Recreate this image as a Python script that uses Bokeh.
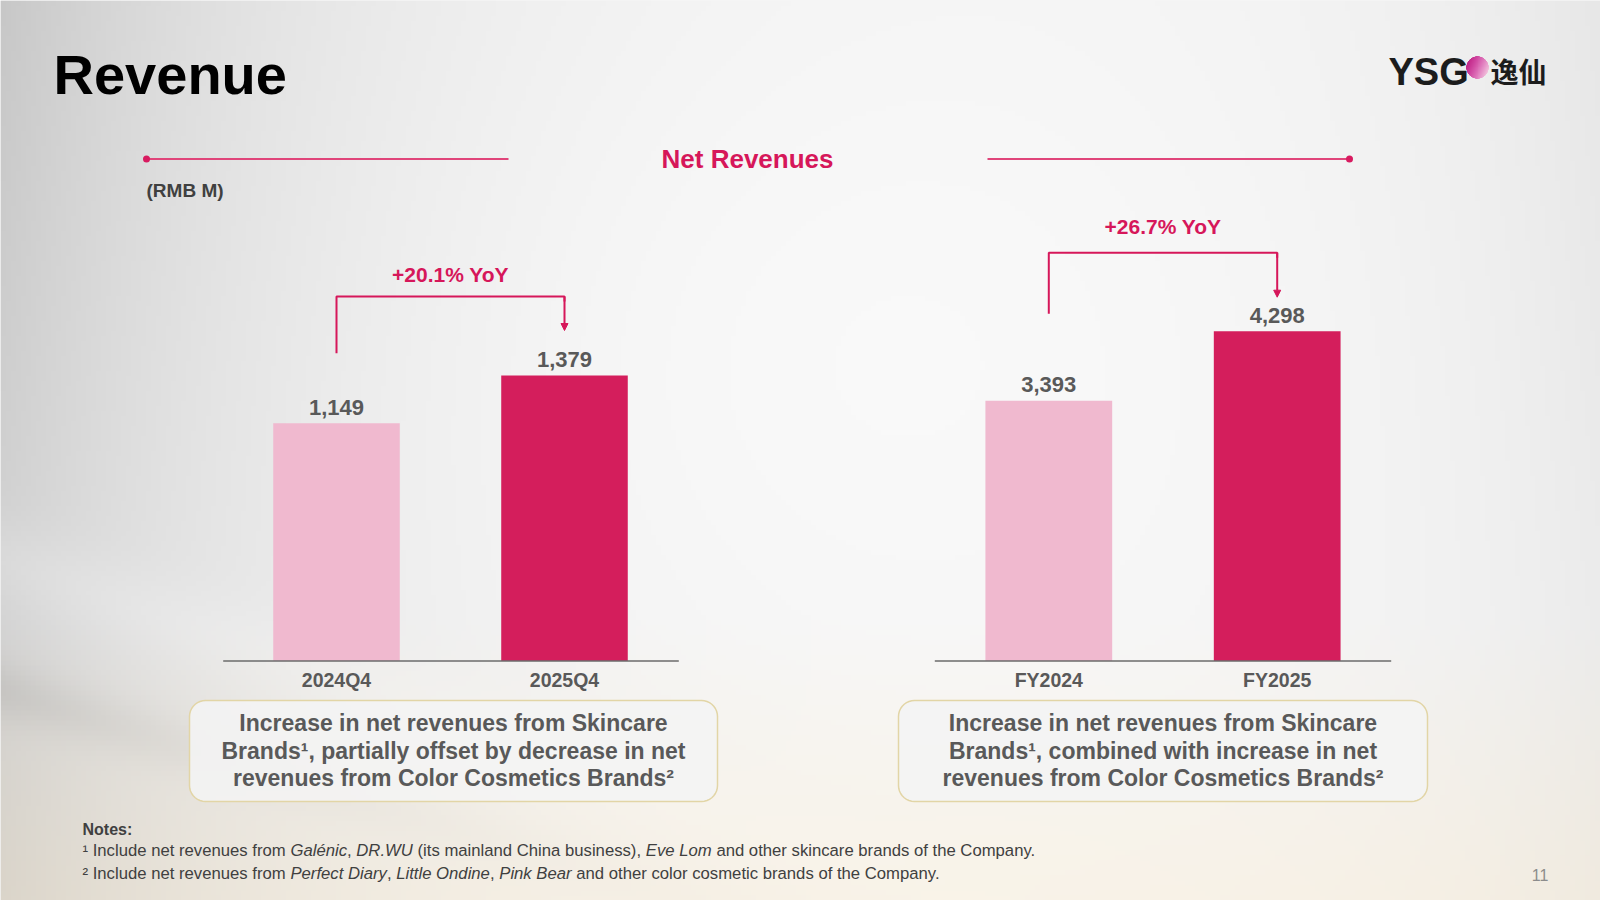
import numpy as np
from bokeh.plotting import figure
from bokeh.models import Range1d, ColumnDataSource, Arrow, NormalHead
from bokeh.core.properties import value
from bokeh.embed import file_html
from bokeh.resources import INLINE

# ---------------- data ----------------
quarter_labels = ["2024Q4", "2025Q4"]
quarter_values = [1149, 1379]
year_labels = ["FY2024", "FY2025"]
year_values = [3393, 4298]
yoy_labels = ["+20.1% YoY", "+26.7% YoY"]
bar_colors = ["#F0B9CF", "#D41E5C"]

title_text = "Revenue"
section_title = "Net Revenues"
unit_text = "(RMB M)"
box_lines_left = ["Increase in net revenues from Skincare",
                  "Brands\u00b9, partially offset by decrease in net",
                  "revenues from Color Cosmetics Brands\u00b2"]
box_lines_right = ["Increase in net revenues from Skincare",
                   "Brands\u00b9, combined with increase in net",
                   "revenues from Color Cosmetics Brands\u00b2"]
notes_title = "Notes:"
note1_parts = ["\u00b9 Include net revenues from ", "Gal\u00e9nic", ", ", "DR.WU",
               " (its mainland China business), ", "Eve Lom",
               " and other skincare brands of the Company."]
note1_italic = [False, True, False, True, False, True, False]
note2_parts = ["\u00b2 Include net revenues from ", "Perfect Diary", ", ", "Little Ondine",
               ", ", "Pink Bear", " and other color cosmetic brands of the Company."]
note2_italic = [False, True, False, True, False, True, False]
page_number = "11"

FONT = value("Liberation Sans")
CRIMSON = "#D6175A"
GREY_TXT = "#595959"

W, H = 1600, 900
def Y(sy):
    return H - sy

p = figure(width=W, height=H, x_range=Range1d(0, W), y_range=Range1d(0, H),
           output_backend="svg", toolbar_location=None, min_border=0,
           x_axis_type=None, y_axis_type=None)
p.grid.visible = False
p.outline_line_color = None
p.background_fill_color = "#eeeeee"
p.border_fill_color = "#eeeeee"

# ---------------- background ----------------
nx, ny = 320, 180
xs = (np.arange(nx) + 0.5) * W / nx
sys_ = H - (np.arange(ny) + 0.5) * H / ny
X, SY = np.meshgrid(xs, sys_)
B = 247 - 48 * np.exp(-X / 300) * (1 - 0.35 * SY / H)
B -= 16 * np.exp(-(W - X) / 220) * (1 - 0.4 * SY / H)
d = (SY - (690 + 0.3 * X)) / 30.0
B -= 14 * np.exp(-d ** 2) * np.exp(-X / 300)
d2 = (SY - (560 + 0.35 * X)) / 45.0
B += 8 * np.exp(-d2 ** 2) * np.exp(-X / 350)
B += 5 * np.exp(-((X - 800) / 500) ** 2 - ((SY - 350) / 350) ** 2)
w = np.clip((SY - 620) / 280, 0, 1)
R = B + 3 * w
G = B - 3 * w
Bl = B - 14 * w
img = np.empty((ny, nx), dtype=np.uint32)
view = img.view(dtype=np.uint8).reshape((ny, nx, 4))
view[..., 0] = np.clip(R, 0, 255).astype(np.uint8)
view[..., 1] = np.clip(G, 0, 255).astype(np.uint8)
view[..., 2] = np.clip(Bl, 0, 255).astype(np.uint8)
view[..., 3] = 255
p.image_rgba(image=[img], x=0, y=0, dw=W, dh=H)

# ---------------- title and logo ----------------
p.text(x=[53], y=[Y(73.5)], text=[title_text], text_font=FONT, text_font_style="bold",
       text_font_size="56px", text_color="#000000", text_baseline="middle", text_align="left")

cn = 48
cx0, cy0, cr = 1477.0, 67.0, 11.5
gx = np.linspace(cx0 - cr, cx0 + cr, cn)
gy = np.linspace(cy0 + cr, cy0 - cr, cn)
GX, GY = np.meshgrid(gx, gy)
t = np.clip(((GX - (cx0 - cr)) / (2 * cr)) * 0.7 + ((GY - (cy0 - cr)) / (2 * cr)) * 0.3, 0, 1)
rr = np.sqrt((GX - cx0) ** 2 + (GY - cy0) ** 2)
alpha = np.clip((cr - rr) * 3, 0, 1)
limg = np.empty((cn, cn), dtype=np.uint32)
lv = limg.view(dtype=np.uint8).reshape((cn, cn, 4))
lv[..., 0] = (185 + 65 * t).astype(np.uint8)
lv[..., 1] = (30 + 200 * t ** 1.5).astype(np.uint8)
lv[..., 2] = (120 + 115 * t).astype(np.uint8)
lv[..., 3] = (255 * alpha).astype(np.uint8)
p.image_rgba(image=[limg], x=cx0 - cr, y=Y(cy0 + cr), dw=2 * cr, dh=2 * cr)
p.text(x=[1388], y=[Y(71)], text=["YSG"], text_font=FONT, text_font_style="bold",
       text_font_size="38px", text_color="#1c1c1c", text_baseline="middle", text_align="left")
p.text(x=[1490], y=[Y(70)], text=["\u9038\u4ed9"], text_font=value("Noto Sans CJK SC"),
       text_font_style="bold", text_font_size="28px", text_color="#1c1c1c",
       text_baseline="middle", text_align="left")

# ---------------- section header ----------------
p.segment(x0=[146, 987], y0=[Y(158.5)] * 2, x1=[508, 1349], y1=[Y(158.5)] * 2,
          line_color="#E0457A", line_width=2)
p.scatter(x=[146, 1349], y=[Y(158.5)] * 2, size=7, marker="circle",
          fill_color="#D81B60", line_color=None)
p.text(x=[747], y=[Y(158)], text=[section_title], text_font=FONT, text_font_style="bold",
       text_font_size="26px", text_color=CRIMSON, text_baseline="middle", text_align="center")
p.text(x=[146], y=[Y(190)], text=[unit_text], text_font=FONT, text_font_style="bold",
       text_font_size="19px", text_color="#404040", text_baseline="middle", text_align="left")

# ---------------- charts ----------------
charts = [
    dict(labels=quarter_labels, values=quarter_values, yoy=yoy_labels[0],
         c0=336.0, step=228.0, base=660.5, scale=0.2070, axis=(222.7, 678.3),
         leg=352.7, bar=296.0, tip=330.0, text_y=274.0),
    dict(labels=year_labels, values=year_values, yoy=yoy_labels[1],
         c0=1048.3, step=228.4, base=660.5, scale=0.0767, axis=(934.3, 1390.7),
         leg=313.3, bar=252.3, tip=296.7, text_y=226.0),
]

for i, c in enumerate(charts):
    xr, yr = f"x{i}", f"y{i}"
    p.extra_x_ranges[xr] = Range1d(-c["c0"] / c["step"], (W - c["c0"]) / c["step"])
    p.extra_y_ranges[yr] = Range1d(-(H - c["base"]) / c["scale"], c["base"] / c["scale"])
    src = ColumnDataSource(dict(
        x=list(range(len(c["labels"]))),
        top=c["values"],
        color=bar_colors,
        label=[f"{v:,}" for v in c["values"]],
    ))
    p.vbar(x="x", top="top", bottom=0, width=0.555, fill_color="color", line_color=None,
           source=src, x_range_name=xr, y_range_name=yr)
    p.text(x="x", y="top", text="label", source=src, x_range_name=xr, y_range_name=yr,
           y_offset=-16, text_font=FONT, text_font_style="bold", text_font_size="22px",
           text_color=GREY_TXT, text_align="center", text_baseline="middle")
    cat_src = ColumnDataSource(dict(x=list(range(len(c["labels"]))), cat=c["labels"],
                                    y=[Y(679.5)] * len(c["labels"])))
    p.text(x="x", y="y", text="cat", source=cat_src, x_range_name=xr,
           text_font=FONT, text_font_style="bold", text_font_size="19.5px",
           text_color=GREY_TXT, text_align="center", text_baseline="middle")
    p.segment(x0=[c["axis"][0]], y0=[Y(c["base"])], x1=[c["axis"][1]], y1=[Y(c["base"])],
              line_color="#6b6b6b", line_width=1.3)
    xl = c["c0"]
    xrr = c["c0"] + c["step"]
    p.line(x=[xl, xl, xrr, xrr], y=[Y(c["leg"]), Y(c["bar"]), Y(c["bar"]), Y(c["bar"] + 5)],
           line_color=CRIMSON, line_width=2)
    p.add_layout(Arrow(end=NormalHead(size=7, fill_color=CRIMSON, line_color=CRIMSON, line_width=1),
                       x_start=xrr, y_start=Y(c["bar"]), x_end=xrr, y_end=Y(c["tip"]),
                       line_color=CRIMSON, line_width=2))
    p.text(x=[(xl + xrr) / 2], y=[Y(c["text_y"])], text=[c["yoy"]], text_font=FONT,
           text_font_style="bold", text_font_size="21px", text_color=CRIMSON,
           text_align="center", text_baseline="middle")

# ---------------- text boxes ----------------
def rrect(x0, y0, x1, y1, r, n=10):
    pts = []
    corners = [((x1 - r, y0 + r), -90, 0), ((x1 - r, y1 - r), 0, 90),
               ((x0 + r, y1 - r), 90, 180), ((x0 + r, y0 + r), 180, 270)]
    for (cx, cy), a0, a1 in corners:
        for a in np.linspace(np.radians(a0), np.radians(a1), n):
            pts.append((cx + r * np.cos(a), cy + r * np.sin(a)))
    return [q[0] for q in pts], [Y(q[1]) for q in pts]

for (bx0, bx1), lines in [((189, 717), box_lines_left), ((898, 1427), box_lines_right)]:
    px_, py_ = rrect(bx0, 700, bx1, 801, 16)
    p.patch(px_, py_, fill_color="#f4f4f4", fill_alpha=0.88, line_color="#E2D5A6", line_width=1.5)
    cx = (bx0 + bx1) / 2
    p.text(x=[cx] * 3, y=[Y(722.5), Y(750), Y(777.5)], text=lines, text_font=FONT,
           text_font_style="bold", text_font_size="23px", text_color=GREY_TXT,
           text_align="center", text_baseline="middle")

# ---------------- notes ----------------
AW = {' ': 278, '(': 333, ')': 333, ',': 278, '.': 278, ':': 278, '\u00b9': 333, '\u00b2': 333,
      '\u00e9': 556}
for ch, wv in zip("ABCDEFGHIJKLMNOPQRSTUVWXYZ",
                  [667, 667, 722, 722, 667, 611, 778, 722, 278, 500, 667, 556, 833, 722, 778,
                   667, 778, 722, 667, 611, 722, 667, 944, 667, 667, 611]):
    AW[ch] = wv
for ch, wv in zip("abcdefghijklmnopqrstuvwxyz",
                  [556, 556, 500, 556, 556, 278, 556, 556, 222, 222, 500, 222, 833, 556, 556,
                   556, 556, 333, 500, 278, 556, 500, 722, 500, 500, 500]):
    AW[ch] = wv

def twidth(s, size):
    return sum(AW.get(ch, 556) for ch in s) / 1000.0 * size

NOTE_SIZE = 16.7
p.text(x=[82], y=[Y(829)], text=[notes_title], text_font=FONT, text_font_style="bold",
       text_font_size="16px", text_color="#404040", text_baseline="middle", text_align="left")
for parts, ital, sy in [(note1_parts, note1_italic, 849.5), (note2_parts, note2_italic, 872.5)]:
    xpos = 82.0
    for seg, it in zip(parts, ital):
        lead = len(seg) - len(seg.lstrip(' '))
        shown = seg.strip(' ')
        p.text(x=[xpos + twidth(seg[:lead], NOTE_SIZE)], y=[Y(sy)], text=[shown], text_font=FONT,
               text_font_style="italic" if it else "normal", text_font_size=f"{NOTE_SIZE}px",
               text_color="#404040", text_baseline="middle", text_align="left")
        xpos += twidth(seg, NOTE_SIZE)

p.text(x=[1539.5], y=[Y(874.5)], text=[page_number], text_font=FONT, text_font_size="16px",
       text_color="#8c8c8c", text_baseline="middle", text_align="center")

open("out.html", "w").write(file_html(p, INLINE))
